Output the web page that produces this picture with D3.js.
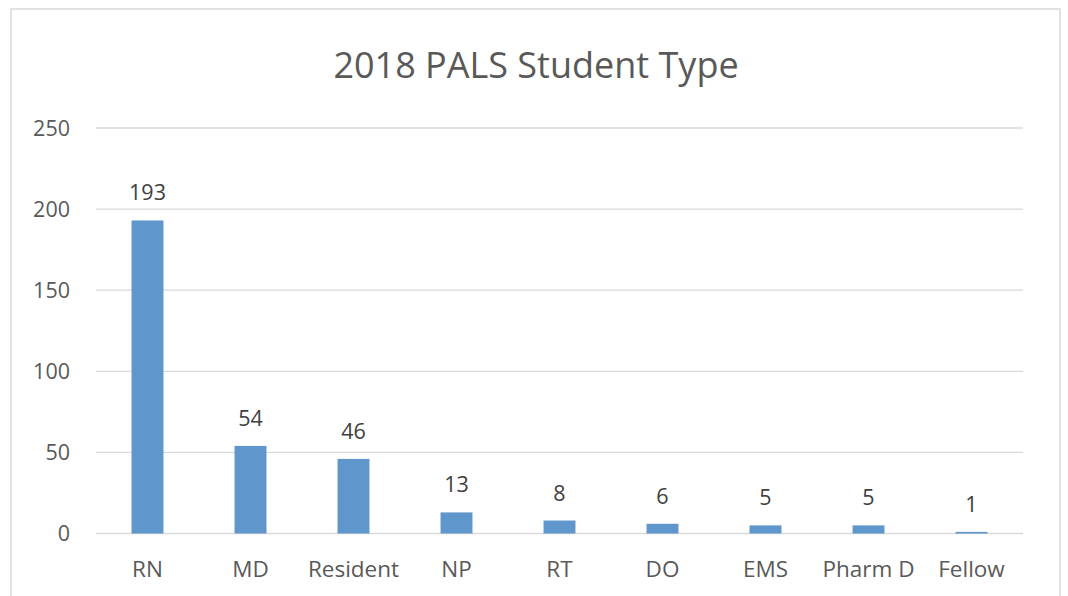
<!DOCTYPE html>
<html><head><meta charset="utf-8">
<script src="https://cdn.jsdelivr.net/npm/d3@7"></script>
<style>body{margin:0;background:#fff}svg{display:block}</style>
</head><body>
<svg id="c" width="1068" height="596"></svg>
<script>
const categories = ["RN","MD","Resident","NP","RT","DO","EMS","Pharm D","Fellow"];
const values = [193,54,46,13,8,6,5,5,1];
const yTicks = [0,50,100,150,200,250];
const title = "2018 PALS Student Type";

const svg = d3.select("#c");
const font = "'Open Sans', sans-serif";
svg.append("rect").attr("x",11).attr("y",9).attr("width",1049).attr("height",600)
  .attr("fill","#fff").attr("stroke","#d9d9d9").attr("stroke-width",1.5);

const x = d3.scaleBand().domain(categories).range([96,1023]).padding(0);
const y = d3.scaleLinear().domain([0,250]).range([533.5,128]);

svg.append("g").selectAll("line").data(yTicks).join("line")
  .attr("x1",96).attr("x2",1023).attr("y1",d=>y(d)).attr("y2",d=>y(d))
  .attr("stroke","#d9d9d9").attr("stroke-width",1.3);

svg.append("g").selectAll("text").data(yTicks).join("text")
  .attr("x",70).attr("y",d=>y(d)).attr("dy","0.36em").attr("text-anchor","end")
  .attr("font-family",font).attr("font-size",21.5).attr("fill","#595959").text(d=>d);

const bw = x.bandwidth()*0.31;
svg.append("g").selectAll("rect").data(values).join("rect")
  .attr("x",(d,i)=>x(categories[i])+x.bandwidth()/2-bw/2)
  .attr("width",bw)
  .attr("y",d=>y(d)).attr("height",d=>y(0)-y(d))
  .attr("fill","#5F96CB");

svg.append("g").selectAll("text").data(values).join("text")
  .attr("x",(d,i)=>x(categories[i])+x.bandwidth()/2)
  .attr("y",d=>y(d)-20).attr("text-anchor","middle")
  .attr("font-family",font).attr("font-size",21.5).attr("fill","#404040").text(d=>d);

svg.append("g").selectAll("text").data(categories).join("text")
  .attr("x",d=>x(d)+x.bandwidth()/2).attr("y",577).attr("text-anchor","middle")
  .attr("font-family",font).attr("font-size",22.5).attr("fill","#595959").text(d=>d);

svg.append("text").attr("x",536).attr("y",78).attr("text-anchor","middle")
  .attr("font-family",font).attr("font-size",36).attr("fill","#595959").text(title);
</script>
</body></html>
